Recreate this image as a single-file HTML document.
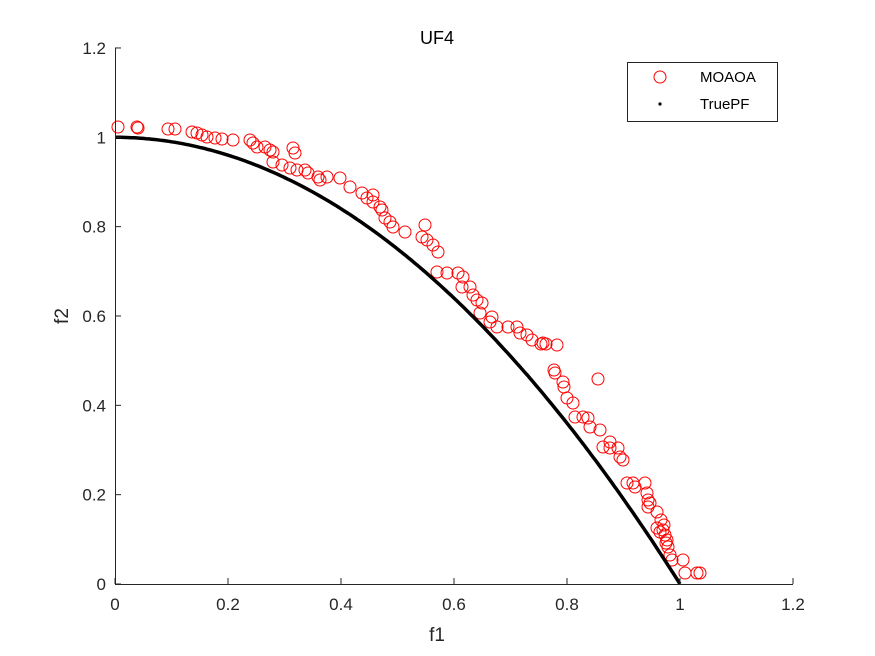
<!DOCTYPE html>
<html><head><meta charset="utf-8"><style>
html,body{margin:0;padding:0;background:#fff;}
svg{display:block;font-family:"Liberation Sans",sans-serif;}
</style></head><body>
<svg id="s" width="875" height="656" viewBox="0 0 875 656" xmlns="http://www.w3.org/2000/svg">
<rect x="0" y="0" width="875" height="656" fill="#fff"/>
<g id="pts" fill="none" stroke="#ff0000" stroke-width="1"></g>
<path id="curve" fill="none" stroke="#000" stroke-width="3.5"/>
<g stroke="#262626" stroke-width="1" fill="none">
<line x1="115" y1="584.5" x2="793" y2="584.5"/>
<line x1="115.5" y1="48" x2="115.5" y2="584"/>
</g>
<g id="ticks" stroke="#262626" stroke-width="1"></g>
<g id="labels" fill="#262626" font-size="17"></g>
<text x="437" y="44" text-anchor="middle" font-size="18" fill="#000">UF4</text>
<text x="437" y="641" text-anchor="middle" font-size="19" fill="#262626">f1</text>
<text x="68" y="316" text-anchor="middle" font-size="19" fill="#262626" transform="rotate(-90 68 316)">f2</text>
<rect x="627.5" y="62.5" width="150" height="59" fill="#fff" stroke="#262626" stroke-width="1"/>
<circle cx="660" cy="77" r="6" fill="none" stroke="#ff0000"/>
<text x="700" y="82" font-size="15" fill="#000">MOAOA</text>
<circle cx="660" cy="104" r="1.6" fill="#000"/>
<text x="700" y="109" font-size="15" fill="#000">TruePF</text>
</svg>
<script>
var NS="http://www.w3.org/2000/svg";
function X(v){return 115+v*565;}function Y(v){return 584-v*446.7;}
var d="";for(var i=0;i<=200;i++){var f=i/200;d+=(i?"L":"M")+X(f).toFixed(1)+" "+Y(1-f*f).toFixed(1);}
document.getElementById("curve").setAttribute("d",d);
var t=document.getElementById("ticks"),l=document.getElementById("labels");
for(var i=0;i<=6;i++){var v=i*0.2,x=X(v),y=Y(v);
var a=document.createElementNS(NS,"line");a.setAttribute("x1",x);a.setAttribute("x2",x);a.setAttribute("y1",584);a.setAttribute("y2",578);t.appendChild(a);
var b=document.createElementNS(NS,"line");b.setAttribute("x1",115);b.setAttribute("x2",121);b.setAttribute("y1",y);b.setAttribute("y2",y);t.appendChild(b);
var s=i==0?"0":(i==5?"1":v.toFixed(1));
var tx=document.createElementNS(NS,"text");tx.setAttribute("x",x);tx.setAttribute("y",610);tx.setAttribute("text-anchor","middle");tx.textContent=s;l.appendChild(tx);
var ty=document.createElementNS(NS,"text");ty.setAttribute("x",106);ty.setAttribute("y",y+6);ty.setAttribute("text-anchor","end");ty.textContent=s;l.appendChild(ty);}
var P=[[118,127],[137,127],[138,128],[168,129],[175,129],[192,132],[197,133],[202,135],[207,137],[215,138],[222,139],[233,140],[250,140],[253,143],[257,147],[265,147],[270,150],[273,152],[293,148],[295,153],[273,162],[282,165],[290,168],[297,170],[305,170],[308,173],[318,177],[320,180],[327,177],[340,178],[350,187],[362,193],[367,198],[373,195],[373,202],[380,207],
[382,210],[385,218],[390,222],[393,227],[405,232],[425,225],[422,237],[427,240],[433,245],[438,252],[437,272],[447,273],[458,273],[463,277],[462,287],[470,287],[473,295],[477,300],[482,303],[480,313],[492,317],[490,322],[497,327],[508,327],[517,327],[520,333],[527,335],[532,340],[543,343],[557,345],
[541,344],[546,344],[554,370],[555,373],[563,382],[564,387],[567,398],[573,403],[575,417],[583,417],[588,418],[590,427],[600,430],[598,379],[610,442],[603,447],[610,448],[618,448],[620,457],[623,460],[627,483],[633,483],[645,483],[635,487],[647,493],[648,500],[650,503],[648,507],[657,512],[657,528],[663,530],[665,535],[667,540],[668,547],[670,555],[672,560],[683,560],[685,573],[697,573],[700,573],[660,532],[666,543],[661,520],[664,525]];
var g=document.getElementById("pts");
P.forEach(function(p){var c=document.createElementNS(NS,"circle");c.setAttribute("cx",p[0]);c.setAttribute("cy",p[1]);c.setAttribute("r",6);g.appendChild(c);});
</script>
</body></html>
